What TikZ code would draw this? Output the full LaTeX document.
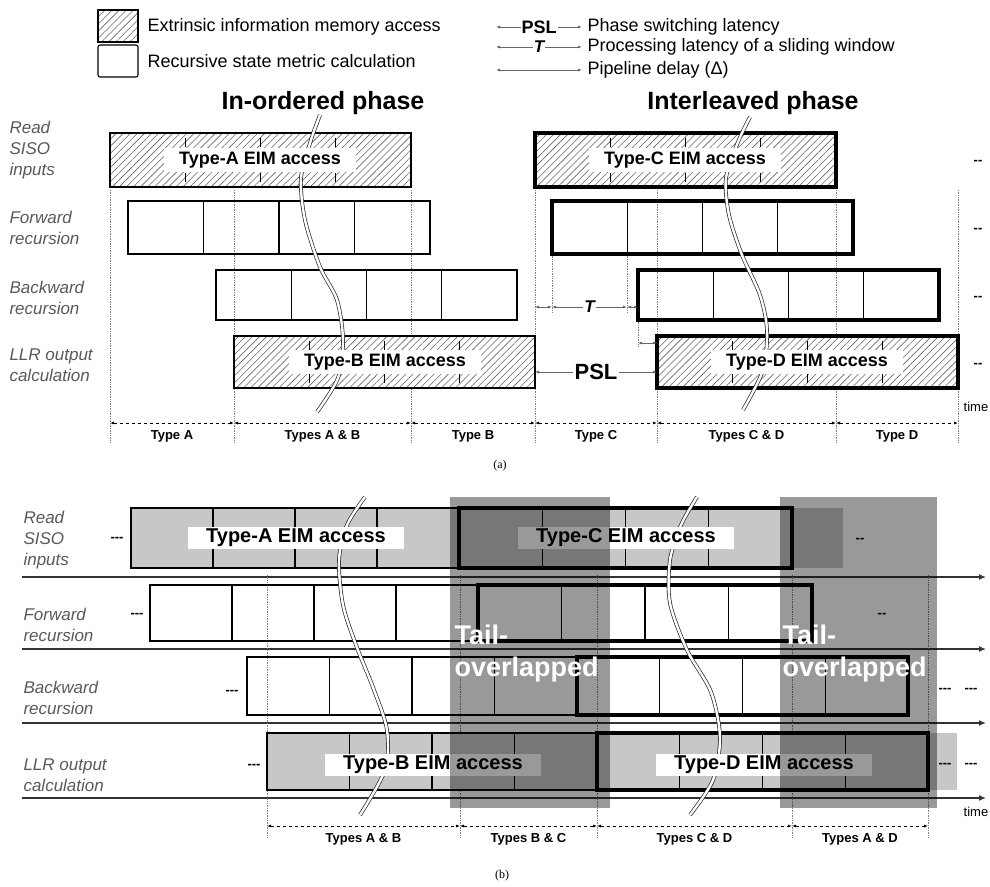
\documentclass[tikz,border=0pt]{standalone}
\usepackage{fontspec}
\setmainfont{Liberation Sans}
\newfontfamily\capfont{Liberation Serif}
\usetikzlibrary{arrows.meta,calc,patterns.meta}

\begin{document}
\begin{tikzpicture}[x=1pt, y=-1pt,
    eim/.style={rectangle, draw=black, line width=1.1pt, anchor=north west, inner sep=0pt, outer sep=0pt,
        preaction={fill=white}, pattern={Lines[angle=45,distance=5pt,line width=0.6pt]}, pattern color=black!60},
    smc/.style={rectangle, draw=black, line width=1.1pt, anchor=north west, inner sep=0pt, outer sep=0pt},
    lite/.style={smc, fill=black!22},
    heavy/.style={line width=3.4pt},
    eimlbl/.style={fill=white, inner xsep=15pt, inner ysep=4pt, font=\bfseries\fontsize{18}{20}\selectfont},
    eimlblb/.style={fill=white, inner xsep=18pt, inner ysep=2pt, font=\bfseries\fontsize{20}{22}\selectfont},
    rowlbl/.style={anchor=west, align=left, text=black!65, font=\itshape\fontsize{17}{21}\selectfont},
    phase/.style={font=\bfseries\fontsize{25}{28}\selectfont},
    legtxt/.style={anchor=west, font=\fontsize{18}{20}\selectfont},
    rowsep/.style={draw=black!75, line width=0.8pt, double=white, double distance=1.2pt},
    rowarr/.style={draw=black!80, line width=1.4pt, -{Latex[length=7pt,width=6pt]}},
    vdot/.style={densely dotted, draw=black!50, line width=0.7pt},
    axis/.style={dashed, line width=0.8pt, {Latex[length=4pt,width=3pt]}-{Latex[length=4pt,width=3pt]}},
    axlbl/.style={below=4pt, font=\bfseries\fontsize{13}{15}\selectfont},
    lat/.style={draw=black!60, line width=0.8pt, {Latex[length=4pt,width=3pt]}-{Latex[length=4pt,width=3pt]}},
    brk/.style={draw=black!85, line width=0.7pt, double=white, double distance=2.4pt},
    shade/.style={fill=black, fill opacity=0.4},
    tail/.style={anchor=west, align=left, text=white, font=\bfseries\fontsize{27}{32}\selectfont},
    more/.style={font=\bfseries\fontsize{13}{15}\selectfont},
    timelbl/.style={font=\fontsize{13}{15}\selectfont}
]
\useasboundingbox (0,0) rectangle (990,886);

% legend
\node[eim, minimum width=40pt, minimum height=32pt] (legE) at (98,10) {};
\node[legtxt] (legEt) at (144,27) {Extrinsic information memory access};
\node[smc, minimum width=40pt, minimum height=32pt, rounded corners=2pt] (legR) at (98,45) {};
\node[legtxt] (legRt) at (144,61) {Recursive state metric calculation};
\coordinate (lgP1) at (496,27); \coordinate (lgP2) at (582,27);
\coordinate (lgT1) at (496,47); \coordinate (lgT2) at (582,47);
\coordinate (lgD1) at (496,70); \coordinate (lgD2) at (582,70);
\draw[lat] (lgP1) -- node[fill=white, inner sep=1pt, font=\bfseries\fontsize{18}{20}\selectfont] (legPSL) {PSL} (lgP2);
\draw[lat] (lgT1) -- node[fill=white, inner sep=1pt, font=\itshape\bfseries\fontsize{17}{19}\selectfont] (legT) {T} (lgT2);
\draw[lat] (lgD1) -- (lgD2);
\node[legtxt] (legPt) at (584,27) {Phase switching latency};
\node[legtxt] (legTt) at (584,47) {Processing latency of a sliding window};
\node[legtxt] (legDt) at (584,70) {Pipeline delay (Δ)};

\node[phase] (phIn) at (323,103) {In-ordered phase};
\node[phase] (phIl) at (753,103) {Interleaved phase};

% (a)
\node[rowlbl] (rlRead) at (6,150) {Read\\SISO\\inputs};
\node[rowlbl] (rlFwd) at (6,228) {Forward\\recursion};
\node[rowlbl] (rlBwd) at (6,298) {Backward\\recursion};
\node[rowlbl] (rlLlr) at (6,365) {LLR output\\calculation};
\foreach \y in {192,262,328,396}
    \draw[rowsep] (8,\y) -- (990,\y);
\foreach \x in {110,234,411,535,657,836,958}
    \draw[vdot] (\x,190) -- (\x,442);
\draw[vdot] (552,254) -- (552,312);
\draw[vdot] (627,254) -- (627,312);
\draw[vdot] (638,320) -- (638,346);

\node[eim, minimum width=301pt, minimum height=54pt] (rdA) at (110,133) {};
\node[smc, minimum width=302pt, minimum height=53pt] (fwA) at (128,201) {};
\node[smc, minimum width=301pt, minimum height=50pt] (bwA) at (216,270) {};
\node[eim, minimum width=301pt, minimum height=52pt] (llB) at (234,336) {};
\node[eim, heavy, minimum width=301pt, minimum height=54pt] (rdC) at (535,133) {};
\node[smc, heavy, minimum width=301pt, minimum height=53pt] (fwC) at (552,201) {};
\node[smc, heavy, minimum width=301pt, minimum height=50pt] (bwC) at (638,270) {};
\node[eim, heavy, minimum width=301pt, minimum height=52pt] (llD) at (657,336) {};

\foreach \b in {rdA,llB,rdC,llD}
    \foreach \f in {0.25,0.5,0.75} {
        \draw[line width=0.6pt] ($(\b.north west)!\f!(\b.north east)+(0,5)$) -- ++(0,9);
        \draw[line width=0.6pt] ($(\b.south west)!\f!(\b.south east)+(0,-14)$) -- ++(0,9);
    }

% (b)
\node[rowlbl] (rlReadB) at (20,540) {Read\\SISO\\inputs};
\node[rowlbl] (rlFwdB) at (20,625) {Forward\\recursion};
\node[rowlbl] (rlBwdB) at (20,698) {Backward\\recursion};
\node[rowlbl] (rlLlrB) at (20,775) {LLR output\\calculation};
\foreach \y in {577,649,723,798}
    \draw[rowarr] (22,\y) -- (986,\y);
\foreach \x in {267,460,597,792,928}
    \draw[vdot] (\x,575) -- (\x,838);

\node[lite, draw=none, minimum width=51pt, minimum height=60pt] (rdBN) at (792,508) {};
\node[lite, minimum width=328pt, minimum height=60pt] (rdBA) at (131,508) {};
\node[lite, heavy, minimum width=333pt, minimum height=60pt] (rdBC) at (459,508) {};
\node[smc, minimum width=328pt, minimum height=56pt] (fwBA) at (150,585) {};
\node[smc, heavy, minimum width=334pt, minimum height=56pt] (fwBC) at (478,585) {};
\node[smc, minimum width=330pt, minimum height=58pt] (bwBA) at (247,657) {};
\node[smc, heavy, minimum width=331pt, minimum height=58pt] (bwBC) at (577,657) {};
\node[lite, draw=none, minimum width=29pt, minimum height=57pt] (llBN) at (928,733) {};
\node[lite, minimum width=330pt, minimum height=57pt] (llBB) at (267,733) {};
\node[lite, heavy, minimum width=331pt, minimum height=57pt] (llBD) at (597,733) {};

\foreach \b in {fwA,bwA,fwC,bwC,rdBA,rdBC,fwBA,fwBC,bwBA,bwBC,llBB,llBD}
    \foreach \f in {0.25,0.5,0.75}
        \draw[line width=1.1pt] ($(\b.north west)!\f!(\b.north east)$) -- ($(\b.south west)!\f!(\b.south east)$);

% breaks
\draw[brk] plot[smooth] coordinates {(320,115) (311,140) (301,178) (305,220) (320,267) (337,300) (343,340) (338,378) (317,412)};
\draw[brk] plot[smooth] coordinates {(750,117) (738,142) (726,178) (729,215) (742,255) (760,295) (767,330) (763,370) (743,410)};
\draw[brk] plot[smooth] coordinates {(365,497) (347,525) (339,560) (343,605) (356,645) (374,690) (387,730) (385,770) (360,815)};
\draw[brk] plot[smooth] coordinates {(697,497) (681,525) (670,560) (670,603) (687,650) (711,692) (720,737) (713,780) (690,815)};

\node[eimlbl] (lbA) at (260,160) {Type-A EIM access};
\node[eimlbl] (lbC) at (685,160) {Type-C EIM access};
\node[eimlbl] (lbB) at (385,362) {Type-B EIM access};
\node[eimlbl] (lbD) at (807,362) {Type-D EIM access};

\node[eimlblb] (lbBA) at (296,538) {Type-A EIM access};
\node[eimlblb] (lbBC) at (626,538) {Type-C EIM access};
\node[eimlblb] (lbBB) at (433,765) {Type-B EIM access};
\node[eimlblb] (lbBD) at (764,765) {Type-D EIM access};

% latencies
\coordinate (tS) at (535,307); \coordinate (tF) at (552,307);
\coordinate (tE) at (627,307); \coordinate (tB) at (638,307);
\draw[lat] (tS) -- (tF);
\draw[lat] (tF) -- node[fill=white, inner sep=1pt, font=\itshape\bfseries\fontsize{17}{19}\selectfont] (lbT) {T} (tE);
\draw[lat] (tE) -- (tB);
\coordinate (dB) at (638,343); \coordinate (dL) at (657,343);
\draw[lat] (dB) -- (dL);
\coordinate (pA) at (535,372); \coordinate (pD) at (657,372);
\draw[lat] (pA) -- node[fill=white, inner sep=2pt, font=\bfseries\fontsize{22}{24}\selectfont] (lbPSL) {PSL} (pD);

% time axes
\foreach \x [count=\i from 0] in {110,234,411,535,657,836,958}
    \coordinate (xa\i) at (\x,423);
\draw[axis] (xa0) -- node[axlbl] (tyA) {Type A} (xa1);
\draw[axis] (xa1) -- node[axlbl] (tyAB) {Types A \& B} (xa2);
\draw[axis] (xa2) -- node[axlbl] (tyB) {Type B} (xa3);
\draw[axis] (xa3) -- node[axlbl] (tyC) {Type C} (xa4);
\draw[axis] (xa4) -- node[axlbl] (tyCD) {Types C \& D} (xa5);
\draw[axis] (xa5) -- node[axlbl] (tyD) {Type D} (xa6);
\node[timelbl] (tmA) at (976,407) {time};
\foreach \y in {162,230,298,365}
    \node[more] (mrA\y) at (978,\y) {-{}-};
\node[font=\capfont\fontsize{12}{14}\selectfont] (capA) at (500,466) {(a)};

\node[more] (mrB1) at (117,539) {-{}-{}-};
\node[more] (mrB2) at (137,615) {-{}-{}-};
\node[more] (mrB3) at (232,692) {-{}-{}-};
\node[more] (mrB4) at (254,766) {-{}-{}-};
\node[more] (mrB5) at (860,540) {-{}-};
\node[more] (mrB6) at (882,615) {-{}-};
\node[more] (mrB7) at (958,690) {-{}-{}-\quad-{}-{}-};
\node[more] (mrB8) at (958,765) {-{}-{}-\quad-{}-{}-};

\fill[shade] (450,497) rectangle (610,808);
\fill[shade] (780,497) rectangle (937,808);
\node[tail] (tailA) at (451,654) {Tail-\\overlapped};
\node[tail] (tailB) at (779,654) {Tail-\\overlapped};

\foreach \x [count=\i from 0] in {267,460,597,792,928}
    \coordinate (xb\i) at (\x,826);
\draw[axis] (xb0) -- node[axlbl] (tyBAB) {Types A \& B} (xb1);
\draw[axis] (xb1) -- node[axlbl] (tyBBC) {Types B \& C} (xb2);
\draw[axis] (xb2) -- node[axlbl] (tyBCD) {Types C \& D} (xb3);
\draw[axis] (xb3) -- node[axlbl] (tyBAD) {Types A \& D} (xb4);
\node[timelbl] (tmB) at (976,812) {time};
\node[font=\capfont\fontsize{12}{14}\selectfont] (capB) at (502,876) {(b)};
\end{tikzpicture}
\end{document}
